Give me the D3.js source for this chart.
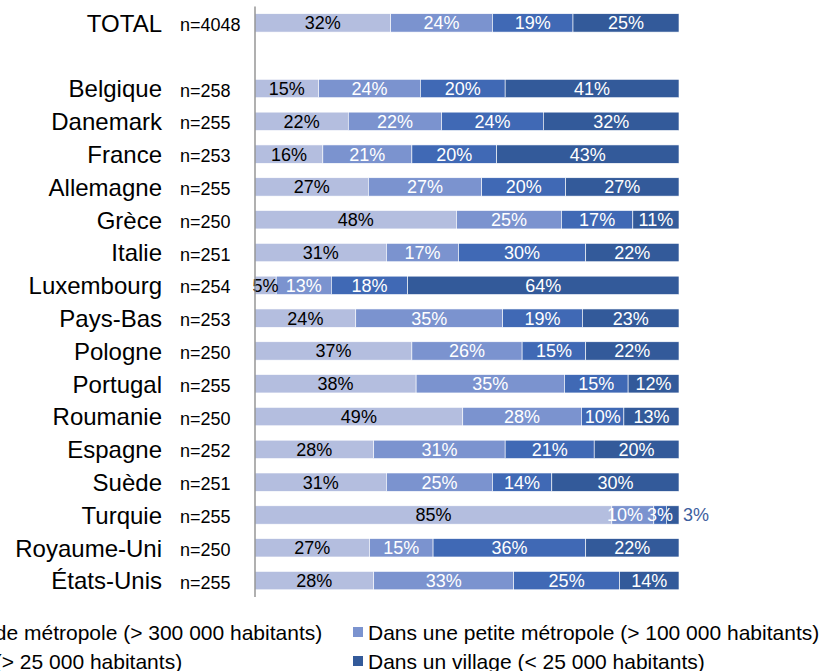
<!DOCTYPE html>
<html>
<head>
<meta charset="utf-8">
<script src="https://cdn.jsdelivr.net/npm/d3@7"></script>
<style>
  body { margin: 0; background: #fff; }
  svg { display: block; font-family: "Liberation Sans", Arial, sans-serif; }
  .country { font-size: 24px; fill: #000; }
  .count { font-size: 18px; fill: #000; }
  .pct { font-size: 18px; }
  .legend text { font-size: 21px; fill: #000; }
</style>
</head>
<body>
<div class="chart"></div>
<script>
// row order top to bottom; "" is the empty slot under TOTAL
var countries = ["TOTAL", "", "Belgique", "Danemark", "France", "Allemagne", "Grèce", "Italie", "Luxembourg",
  "Pays-Bas", "Pologne", "Portugal", "Roumanie", "Espagne", "Suède", "Turquie", "Royaume-Uni", "États-Unis"];
var counts = ["n=4048", "", "n=258", "n=255", "n=253", "n=255", "n=250", "n=251", "n=254",
  "n=253", "n=250", "n=255", "n=250", "n=252", "n=251", "n=255", "n=250", "n=255"];

var series = [
  "Dans une grande métropole (> 300 000 habitants)",
  "Dans une petite métropole (> 100 000 habitants)",
  "Dans une ville (> 25 000 habitants)",
  "Dans un village (< 25 000 habitants)"
];

var grandeMetropole = [32, null, 15, 22, 16, 27, 48, 31, 5, 24, 37, 38, 49, 28, 31, 85, 27, 28];
var petiteMetropole = [24, null, 24, 22, 21, 27, 25, 17, 13, 35, 26, 35, 28, 31, 25, 10, 15, 33];
var ville           = [19, null, 20, 24, 20, 20, 17, 30, 18, 19, 15, 15, 10, 21, 14, 3, 36, 25];
var village         = [25, null, 41, 32, 43, 27, 11, 22, 64, 23, 22, 12, 13, 20, 30, 3, 22, 14];

var colors = ["#b4bedf", "#7b93cf", "#4069b5", "#335a9a"];
var labelColors = ["#000", "#fff", "#fff", "#fff"];

var width = 829, height = 671;
var plotLeft = 255, plotRight = 679, plotTop = 6.5, plotBottom = 597;

var svg = d3.select(".chart").append("svg")
  .attr("width", width)
  .attr("height", height);

var rows = countries.map(function(c, i) {
  return {
    key: i,
    country: c,
    n: counts[i],
    s0: grandeMetropole[i] || 0,
    s1: petiteMetropole[i] || 0,
    s2: ville[i] || 0,
    s3: village[i] || 0
  };
});

var y = d3.scaleBand()
  .domain(rows.map(function(d) { return d.key; }))
  .range([plotTop, plotBottom])
  .paddingInner(0.44)
  .paddingOuter(0.22);

var x = d3.scaleLinear()
  .domain([0, 1])
  .range([plotLeft, plotRight]);

var stack = d3.stack()
  .keys(["s0", "s1", "s2", "s3"])
  .offset(d3.stackOffsetExpand);

var bars = rows.filter(function(d) { return d.country !== ""; });
var layers = stack(bars);

// row labels
svg.selectAll(".country")
  .data(bars)
  .enter().append("text")
    .attr("class", "country")
    .attr("x", 162)
    .attr("y", function(d) { return y(d.key) + y.bandwidth() / 2; })
    .attr("dy", "0.37em")
    .style("text-anchor", "end")
    .text(function(d) { return d.country; });

svg.selectAll(".count")
  .data(bars)
  .enter().append("text")
    .attr("class", "count")
    .attr("x", 180)
    .attr("y", function(d) { return y(d.key) + y.bandwidth() / 2; })
    .attr("dy", "0.45em")
    .text(function(d) { return d.n; });

var layer = svg.selectAll(".layer")
  .data(layers)
  .enter().append("g")
    .attr("class", "layer")
    .style("fill", function(d, i) { return colors[i]; });

layer.selectAll("rect")
  .data(function(d) { return d; })
  .enter().append("rect")
    .attr("x", function(d) { return x(d[0]); })
    .attr("y", function(d) { return y(d.data.key); })
    .attr("width", function(d) { return x(d[1]) - x(d[0]); })
    .attr("height", y.bandwidth())
    .style("stroke", "#ffffff")
    .style("stroke-width", 0.6);

// value labels on top of all segments; a too narrow last segment gets its label after the bar
var labelsByRow = {};
var labelLayer = svg.selectAll(".labels")
  .data(layers)
  .enter().append("g")
    .attr("class", "labels");

labelLayer.each(function(l, i) {
  d3.select(this).selectAll(".pct")
    .data(l)
    .enter().append("text")
      .attr("class", "pct")
      .attr("y", function(d) { return y(d.data.key) + y.bandwidth() / 2; })
      .attr("dy", "0.36em")
      .text(function(d) { return d.data[l.key] + "%"; })
      .each(function(d) {
        var w = x(d[1]) - x(d[0]);
        var outside = i === 3 && w < 14;
        var cx = outside ? x(d[1]) + 4 : (x(d[0]) + x(d[1])) / 2;
        d3.select(this)
          .attr("x", cx)
          .style("text-anchor", outside ? "start" : "middle")
          .style("fill", outside ? "#3d5e9e" : labelColors[i]);
        if (!outside) {
          (labelsByRow[d.data.key] = labelsByRow[d.data.key] || []).push({ node: this, cx: cx });
        }
      });
});

// nudge inside labels to the left when they would run into the next one
Object.keys(labelsByRow).forEach(function(k) {
  var list = labelsByRow[k];
  for (var j = list.length - 2; j >= 0; j--) {
    var a = list[j], b = list[j + 1];
    var wa = a.node.getComputedTextLength(), wb = b.node.getComputedTextLength();
    var gap = (b.cx - wb / 2) - (a.cx + wa / 2);
    if (gap < 4) {
      a.cx -= 4 - gap;
      d3.select(a.node).attr("x", a.cx);
    }
  }
});

// vertical axis line
svg.append("line")
  .attr("x1", plotLeft).attr("x2", plotLeft)
  .attr("y1", plotTop).attr("y2", plotBottom)
  .style("stroke", "#868686")
  .style("stroke-width", 1.3);

// legend, two columns (left column runs off the page like the original)
var legendCols = [-158, 353], legendRows = [632, 661];
var legend = svg.selectAll(".legend")
  .data(series)
  .enter().append("g")
    .attr("class", "legend")
    .attr("transform", function(d, i) {
      return "translate(" + legendCols[i % 2] + "," + legendRows[Math.floor(i / 2)] + ")";
    });

legend.append("rect")
  .attr("x", 0)
  .attr("y", -5)
  .attr("width", 10)
  .attr("height", 10)
  .style("fill", function(d, i) { return colors[i]; });

legend.append("text")
  .attr("x", 15)
  .attr("y", 0)
  .attr("dy", "0.36em")
  .text(function(d) { return d; });
</script>
</body>
</html>
